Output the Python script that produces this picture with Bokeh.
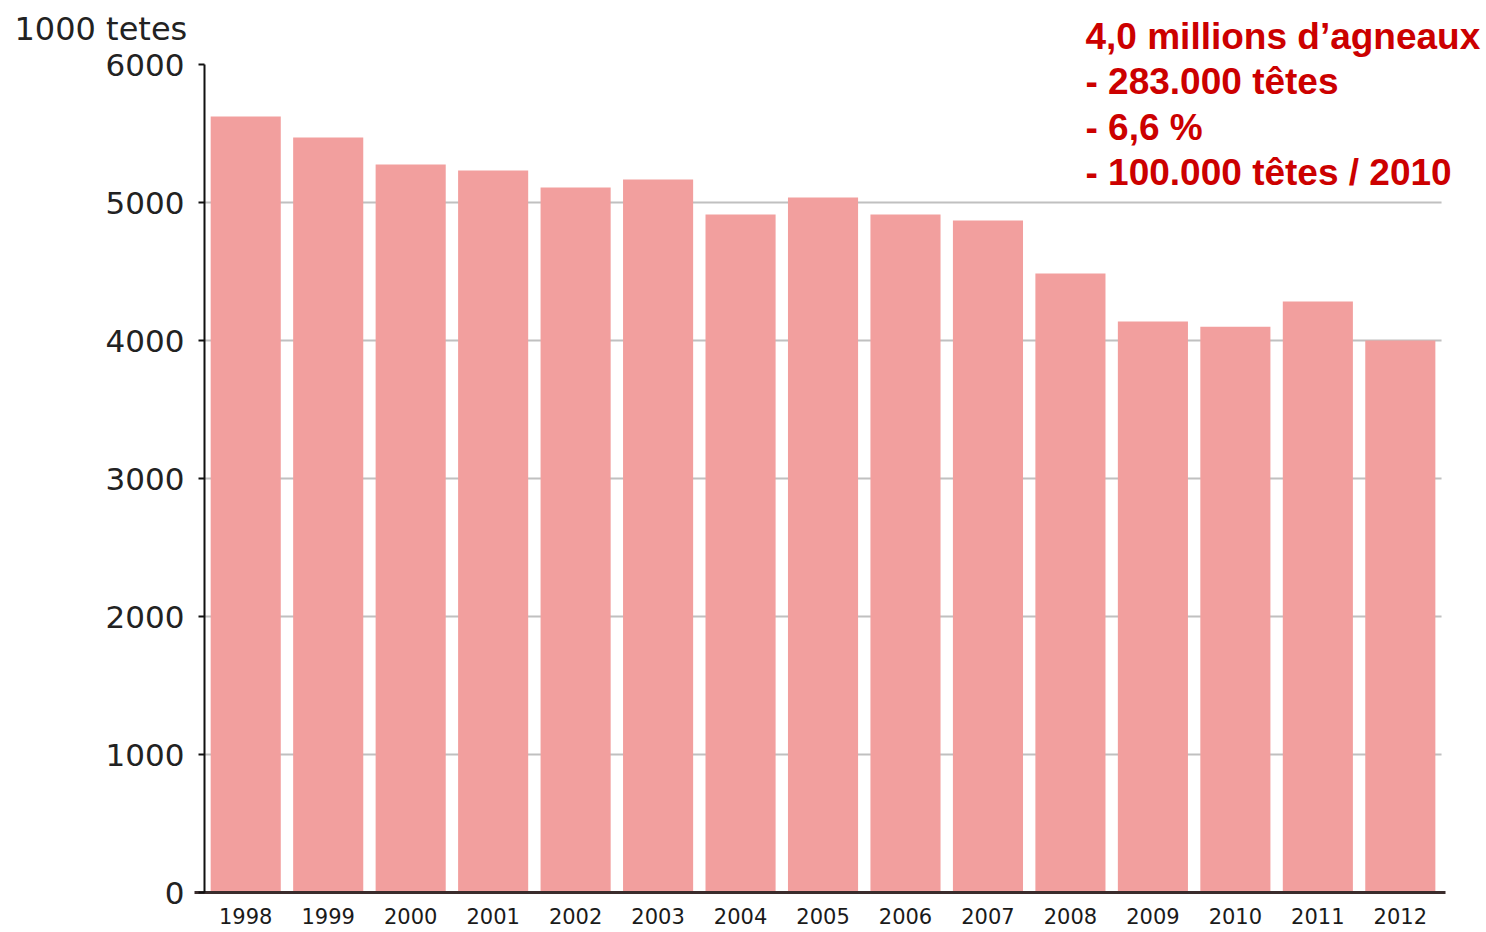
from bokeh.plotting import figure
from bokeh.models import Range1d, FixedTicker, Label
from bokeh.embed import file_html
from bokeh.resources import INLINE

years = [1998, 1999, 2000, 2001, 2002, 2003, 2004, 2005,
         2006, 2007, 2008, 2009, 2010, 2011, 2012]
heads = [5623, 5471, 5275, 5232, 5109, 5167, 4913, 5036,
         4913, 4870, 4486, 4138, 4100, 4283, 4000]
y_ticks = [0, 1000, 2000, 3000, 4000, 5000, 6000]
grid_ticks = [1000, 2000, 3000, 4000, 5000]
unit_label = "1000 tetes"
notes = ["4,0 millions d\u2019agneaux", "- 283.000 t\u00eates", "- 6,6 %",
         "- 100.000 t\u00eates / 2010"]

# ---- layout (pixels) ----
W, H = 1484, 930
AX_LEFT_PX = 204.0     # pixel where the first category starts
CAT_PX = 82.47         # pixels per category
ZERO_PX = 892.0        # pixel row of value 0
PX_PER_UNIT = 828.0 / 6000.0

x0 = years[0] - 0.5
x_start = x0 - AX_LEFT_PX / CAT_PX
x_end = x0 + (W - AX_LEFT_PX) / CAT_PX
y_start = -(H - ZERO_PX) / PX_PER_UNIT
y_end = ZERO_PX / PX_PER_UNIT


def xd(px):
    return x0 + (px - AX_LEFT_PX) / CAT_PX


def yd(px):
    return (ZERO_PX - px) / PX_PER_UNIT


p = figure(x_range=Range1d(x_start, x_end), y_range=Range1d(y_start, y_end),
           width=W, height=H, output_backend="svg", toolbar_location=None,
           min_border=0)
p.outline_line_color = None
p.background_fill_color = "white"
p.xgrid.visible = False
p.ygrid.visible = False

# grid lines spanning the category area only
p.segment(x0=[years[0] - 0.5] * len(grid_ticks), x1=[years[-1] + 0.5] * len(grid_ticks),
          y0=grid_ticks, y1=grid_ticks, line_color="#c0c0c0", line_width=2,
          level="underlay")

p.vbar(x=years, top=heads, width=0.85, fill_color="#f29f9e", line_color=None)

p.yaxis.fixed_location = years[0] - 0.5
p.yaxis.bounds = (0, 6000)
p.yaxis.ticker = FixedTicker(ticks=y_ticks)
p.yaxis.axis_line_color = "#111111"
p.yaxis.axis_line_width = 2
p.yaxis.major_tick_out = 6
p.yaxis.major_tick_in = 0
p.yaxis.major_tick_line_color = "#111111"
p.yaxis.major_tick_line_width = 2
p.yaxis.minor_tick_line_color = None
p.yaxis.major_label_standoff = 14
p.yaxis.major_label_text_font = "DejaVu Sans"
p.yaxis.major_label_text_font_size = "31px"
p.yaxis.major_label_text_color = "#222222"

p.xaxis.fixed_location = 0
p.xaxis.bounds = (years[0] - 0.62, years[-1] + 0.55)
p.xaxis.ticker = FixedTicker(ticks=years)
p.xaxis.axis_line_color = "#3a2c2c"
p.xaxis.axis_line_width = 3
p.xaxis.major_tick_line_color = None
p.xaxis.minor_tick_line_color = None
p.xaxis.major_label_standoff = 9
p.xaxis.major_label_text_font = "DejaVu Sans"
p.xaxis.major_label_text_font_size = "21px"
p.xaxis.major_label_text_color = "#1a1a1a"

p.add_layout(Label(x=xd(14), y=yd(28), text=unit_label, text_font="DejaVu Sans",
                   text_font_size="32px", text_color="#222222", text_baseline="alphabetic"))

for i, line in enumerate(notes):
    p.add_layout(Label(x=xd(1085), y=yd(36 + i * 45.3), text=line,
                       text_font="Liberation Sans", text_font_style="bold",
                       text_font_size="37px", text_color="#cc0000",
                       text_baseline="alphabetic"))

open("out.html", "w").write(file_html(p, INLINE))
